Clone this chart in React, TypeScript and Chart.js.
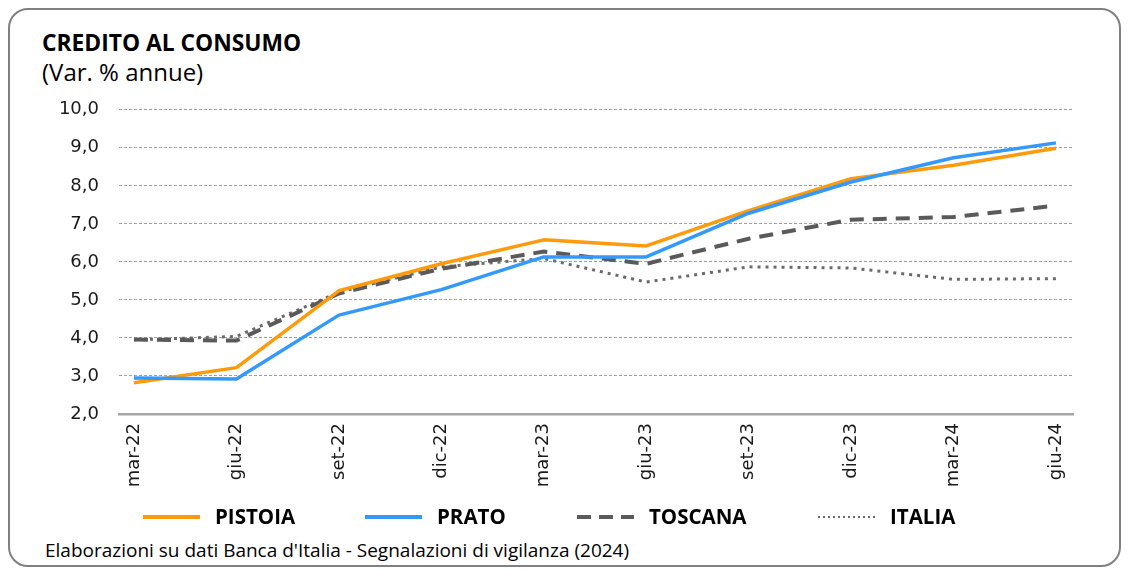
import React, { useEffect, useRef } from "react";
import { Chart, registerables } from "chart.js";

Chart.register(...registerables);

const CATEGORIES = ["mar-22", "giu-22", "set-22", "dic-22", "mar-23", "giu-23", "set-23", "dic-23", "mar-24", "giu-24"];
const PISTOIA = [2.82, 3.22, 5.24, 5.95, 6.58, 6.42, 7.35, 8.19, 8.54, 8.99];
const PRATO = [2.95, 2.92, 4.6, 5.27, 6.13, 6.13, 7.28, 8.1, 8.74, 9.13];
const TOSCANA = [3.96, 3.93, 5.17, 5.82, 6.27, 5.95, 6.61, 7.11, 7.18, 7.48];
const ITALIA = [3.95, 4.04, 5.2, 5.87, 6.09, 5.47, 5.87, 5.84, 5.54, 5.56];
const Y_MIN = 2;
const Y_MAX = 10;
const Y_STEP = 1;

const TITLE = "CREDITO AL CONSUMO";
const SUBTITLE = "(Var. % annue)";
const FOOTER = "Elaborazioni su dati Banca d'Italia - Segnalazioni di vigilanza (2024)";

const ORANGE = "#FF9A0A";
const BLUE = "#3399FF";
const DARK = "#5a5a5a";
const DOT = "#6a6a6a";

const toPoints = (arr: number[]) => arr.map((y, i) => ({ x: i, y }));

export default function App() {
  const ref = useRef<HTMLCanvasElement | null>(null);

  useEffect(() => {
    if (!ref.current) return;
    const chart = new Chart(ref.current, {
      type: "line",
      data: {
        datasets: [
          { label: "PISTOIA", data: toPoints(PISTOIA), borderColor: ORANGE, backgroundColor: ORANGE, borderWidth: 3.5, pointRadius: 0, tension: 0, borderJoinStyle: "round", order: 2 },
          { label: "PRATO", data: toPoints(PRATO), borderColor: BLUE, backgroundColor: BLUE, borderWidth: 3.5, pointRadius: 0, tension: 0, borderJoinStyle: "round", order: 1 },
          { label: "TOSCANA", data: toPoints(TOSCANA), borderColor: DARK, backgroundColor: DARK, borderWidth: 4, borderDash: [14, 9], pointRadius: 0, tension: 0, order: 3 },
          { label: "ITALIA", data: toPoints(ITALIA), borderColor: DOT, backgroundColor: DOT, borderWidth: 3, borderDash: [3, 5], pointRadius: 0, tension: 0, order: 4 },
        ],
      },
      options: {
        animation: false,
        responsive: false,
        maintainAspectRatio: false,
        layout: { padding: { top: 14, right: 46, left: 0, bottom: 0 } },
        plugins: { legend: { display: false }, tooltip: { enabled: false } },
        scales: {
          x: {
            type: "linear",
            min: -0.146,
            max: 9.166,
            grid: { display: false, drawTicks: false },
            border: { display: true, color: "#a6a6a6", width: 2.5 },
            afterBuildTicks: (scale: any) => {
              scale.ticks = CATEGORIES.map((_, i) => ({ value: i }));
            },
            afterFit: (scale: any) => {
              scale.height = 91;
            },
            ticks: {
              autoSkip: false,
              maxRotation: 90,
              minRotation: 90,
              padding: 9,
              color: "#1a1a1a",
              font: { family: "'DejaVu Sans'", size: 18 },
              callback: (v: any) => CATEGORIES[Math.round(Number(v))] ?? "",
            },
          },
          y: {
            min: Y_MIN,
            max: Y_MAX,
            grid: { color: "#a0a0a0", lineWidth: 1, drawTicks: false },
            border: { display: false, dash: [3, 2] },
            afterFit: (scale: any) => {
              scale.width = 109;
            },
            ticks: {
              stepSize: Y_STEP,
              padding: 20,
              color: "#1a1a1a",
              font: { family: "'DejaVu Sans'", size: 18 },
              callback: (v: any) => Number(v).toFixed(1).replace(".", ","),
            },
          },
        },
      },
    });
    return () => chart.destroy();
  }, []);

  const legendItems = [
    { label: "PISTOIA", x: 143, color: ORANGE, dash: "", width: 4 },
    { label: "PRATO", x: 365, color: BLUE, dash: "", width: 4 },
    { label: "TOSCANA", x: 577, color: DARK, dash: "14 8", width: 4 },
    { label: "ITALIA", x: 818, color: DOT, dash: "2 3", width: 2 },
  ];

  return (
    <div style={{ position: "relative", width: 1129, height: 571, overflow: "hidden", fontFamily: "'Open Sans', sans-serif", color: "#000" }}>
      <style>{`html,body{margin:0;padding:0;overflow:hidden;background:#fff}`}</style>
      <div
        style={{
          position: "absolute",
          left: 8,
          top: 8,
          width: 1113,
          height: 559,
          boxSizing: "border-box",
          border: "2px solid #808080",
          borderRadius: 20,
        }}
      />
      <div style={{ position: "absolute", left: 42, top: 27, fontSize: 22.8, lineHeight: "31px", fontWeight: 700, whiteSpace: "nowrap" }}>{TITLE}</div>
      <div style={{ position: "absolute", left: 42, top: 55, fontSize: 24, lineHeight: "33px", whiteSpace: "nowrap" }}>{SUBTITLE}</div>
      <canvas ref={ref} width={1109} height={426} style={{ position: "absolute", left: 10, top: 79, width: 1109, height: 426 }} />
      {legendItems.map((it) => (
        <div key={it.label} style={{ position: "absolute", left: it.x, top: 503, height: 27, display: "flex", alignItems: "center", whiteSpace: "nowrap" }}>
          <svg width={57} height={10} style={{ display: "block" }}>
            <line x1={0} y1={5} x2={57} y2={5} stroke={it.color} strokeWidth={it.width} strokeDasharray={it.dash || undefined} />
          </svg>
          <span style={{ marginLeft: 15, fontSize: 20.5, lineHeight: "27px", fontWeight: 700 }}>{it.label}</span>
        </div>
      ))}
      <div style={{ position: "absolute", left: 45, top: 537, fontSize: 19, lineHeight: "26px", whiteSpace: "nowrap" }}>{FOOTER}</div>
    </div>
  );
}
